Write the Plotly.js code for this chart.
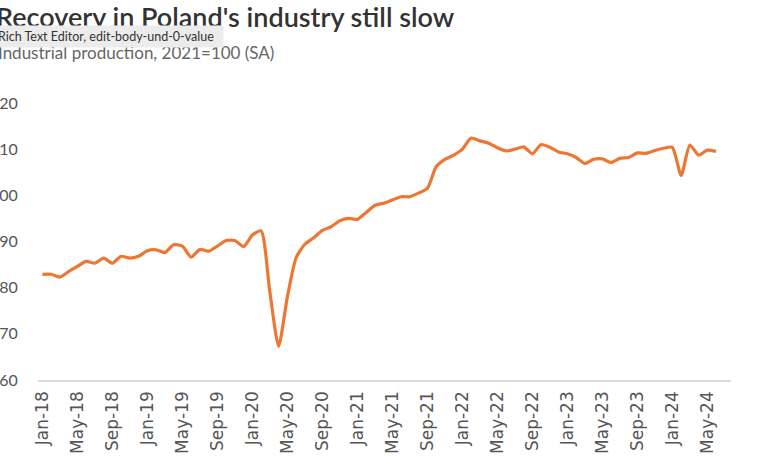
<!DOCTYPE html>
<html>
<head>
<meta charset="utf-8">
<script src="https://cdn.plot.ly/plotly-3.0.1.min.js"></script>
<style>
  html, body { margin: 0; padding: 0; background: #ffffff; }
  #chart { width: 770px; height: 470px; }
</style>
</head>
<body>
<div id="chart"></div>
<script>
// Monthly categories, Jan-18 .. Jun-24
const months = [
  "Jan-18","Feb-18","Mar-18","Apr-18","May-18","Jun-18","Jul-18","Aug-18","Sep-18","Oct-18","Nov-18","Dec-18",
  "Jan-19","Feb-19","Mar-19","Apr-19","May-19","Jun-19","Jul-19","Aug-19","Sep-19","Oct-19","Nov-19","Dec-19",
  "Jan-20","Feb-20","Mar-20","Apr-20","May-20","Jun-20","Jul-20","Aug-20","Sep-20","Oct-20","Nov-20","Dec-20",
  "Jan-21","Feb-21","Mar-21","Apr-21","May-21","Jun-21","Jul-21","Aug-21","Sep-21","Oct-21","Nov-21","Dec-21",
  "Jan-22","Feb-22","Mar-22","Apr-22","May-22","Jun-22","Jul-22","Aug-22","Sep-22","Oct-22","Nov-22","Dec-22",
  "Jan-23","Feb-23","Mar-23","Apr-23","May-23","Jun-23","Jul-23","Aug-23","Sep-23","Oct-23","Nov-23","Dec-23",
  "Jan-24","Feb-24","Mar-24","Apr-24","May-24","Jun-24"
];

// Industrial production, 2021=100 (SA)
const production = [
  82.9, 82.9, 82.3, 83.5, 84.6, 85.7, 85.3, 86.4, 85.3, 86.8, 86.4, 86.8,
  88.0, 88.2, 87.6, 89.3, 89.0, 86.6, 88.3, 87.9, 89.0, 90.2, 90.2, 88.9,
  91.4, 92.3, 79.0, 67.3, 78.0, 86.5, 89.4, 90.8, 92.4, 93.2, 94.5, 95.0,
  94.8, 96.3, 97.8, 98.3, 99.0, 99.7, 99.7, 100.5, 101.5, 106.2, 107.8, 108.7,
  110.0, 112.4, 111.8, 111.3, 110.3, 109.6, 110.0, 110.5, 109.0, 111.0, 110.4, 109.4,
  109.0, 108.2, 106.9, 107.8, 107.9, 107.1, 108.0, 108.2, 109.2, 109.1, 109.7, 110.2,
  110.4, 104.3, 110.9, 108.7, 109.8, 109.5
];

// Tick labels shown on the x axis
const xTickLabels = [
  "Jan-18","May-18","Sep-18","Jan-19","May-19","Sep-19","Jan-20","May-20","Sep-20",
  "Jan-21","May-21","Sep-21","Jan-22","May-22","Sep-22","Jan-23","May-23","Sep-23",
  "Jan-24","May-24"
];
const yTickValues = [60, 70, 80, 90, 100, 110, 120];

const titleText = "Recovery in Poland's industry still slow";
const subtitleText = "Industrial production, 2021=100 (SA)";
const tooltipText = "Rich Text Editor, edit-body-und-0-value";

const FONT = "Lato, 'Open Sans', sans-serif";
const XFONT = "'DejaVu Sans', sans-serif";

const trace = {
  type: "scatter",
  mode: "lines",
  x: months,
  y: production,
  line: { color: "#EE7633", width: 3.2, shape: "spline", smoothing: 0.6 },
  hoverinfo: "skip",
  showlegend: false
};

const layout = {
  width: 770,
  height: 470,
  margin: { l: 38, r: 39, t: 103, b: 90 },
  paper_bgcolor: "#ffffff",
  plot_bgcolor: "#ffffff",
  font: { family: FONT, color: "#555555" },
  xaxis: {
    type: "category",
    range: [-0.5, 78.7],
    tickmode: "array",
    tickvals: xTickLabels,
    ticktext: xTickLabels,
    tickangle: -90,
    tickfont: { family: XFONT, size: 17, color: "#555555" },
    showgrid: false,
    zeroline: false,
    showline: true,
    linecolor: "#dddddd",
    linewidth: 1.5,
    ticks: "outside",
    ticklen: 3,
    tickcolor: "rgba(0,0,0,0)",
    fixedrange: true
  },
  yaxis: {
    range: [60, 120],
    tickmode: "array",
    tickvals: yTickValues,
    tickfont: { family: FONT, size: 16, color: "#555555" },
    showgrid: false,
    zeroline: false,
    showline: false,
    ticks: "outside",
    ticklen: 16,
    tickcolor: "rgba(0,0,0,0)",
    fixedrange: true
  },
  annotations: [
    {
      xref: "paper", yref: "paper",
      x: (-6 - 38) / 693, y: (380 - 16) / 277,
      xanchor: "left", yanchor: "middle",
      text: titleText,
      showarrow: false,
      font: { family: FONT, size: 27, color: "#333333", weight: 600 }
    },
    {
      xref: "paper", yref: "paper",
      x: (-4 - 38) / 693, y: (380 - 52) / 277,
      xanchor: "left", yanchor: "middle",
      text: subtitleText,
      showarrow: false,
      font: { family: FONT, size: 17, color: "#666666" }
    },
    {
      xref: "paper", yref: "paper",
      x: (-6 - 38) / 693, y: (380 - 37) / 277,
      xanchor: "left", yanchor: "middle",
      text: tooltipText + "  ",
      showarrow: false,
      bgcolor: "#ececec",
      borderpad: 3,
      font: { family: FONT, size: 12.5, color: "#333333" }
    }
  ]
};

Plotly.newPlot("chart", [trace], layout, { displayModeBar: false, staticPlot: true });
</script>
</body>
</html>
